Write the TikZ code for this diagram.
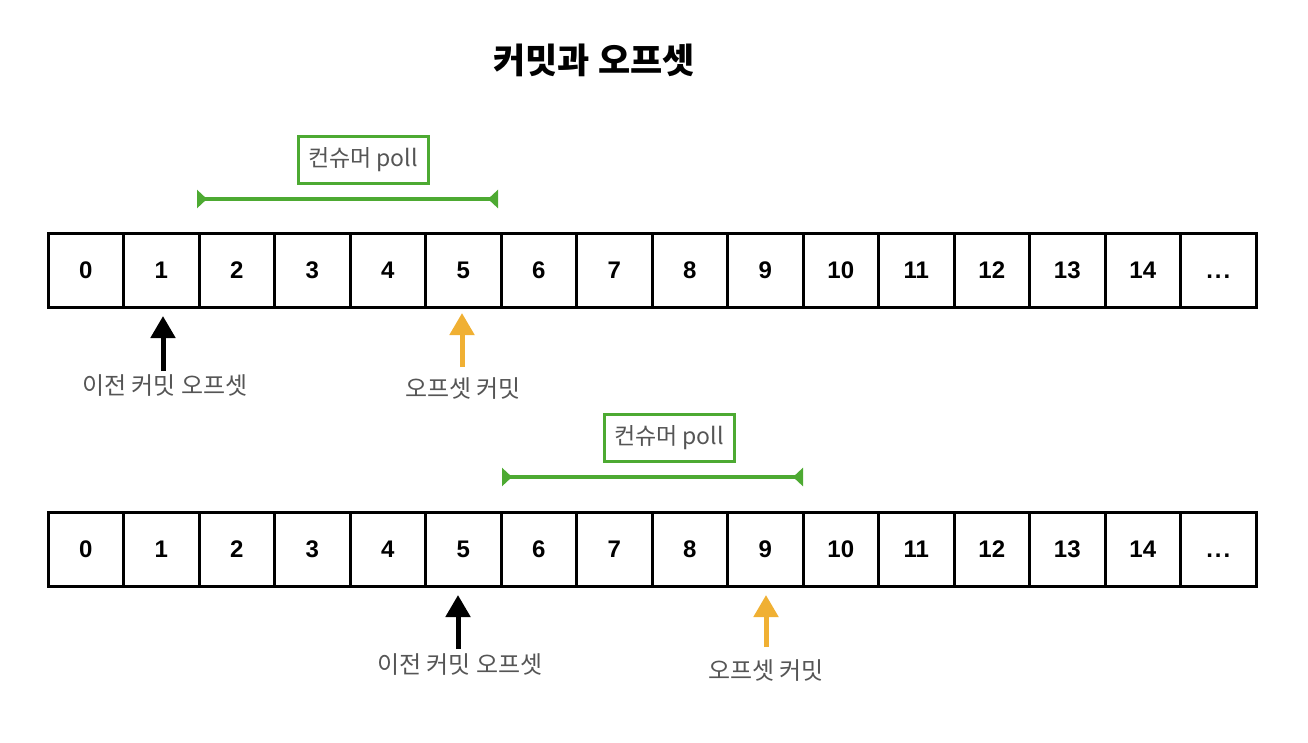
\documentclass[tikz,border=0pt]{standalone}
\usepackage{fontspec}
\setmainfont{Liberation Sans}
\newfontfamily\kr{Noto Sans CJK KR}
\usetikzlibrary{arrows.meta}
\usetikzlibrary{positioning}
\definecolor{pollgreen}{HTML}{4DAA32}
\definecolor{commitorange}{HTML}{F0B033}
\definecolor{labelgray}{HTML}{555555}
\tikzset{cell/.style = {draw, line width = 3, minimum width = 75.5, minimum height = 74,
                        inner sep = 0, text height = 17, text depth = 0,
                        font = \fontsize{24}{24}\selectfont\bfseries}}
\tikzset{pollbox/.style = {draw = pollgreen, line width = 3, minimum width = 130, minimum height = 47,
                           inner sep = 0, text = labelgray, font = \kr\fontsize{23}{23}\selectfont}}
\tikzset{pollspan/.style = {draw = pollgreen, line width = 4,
                            {Triangle[reversed, width = 18, length = 10]}-{Triangle[reversed, width = 18, length = 10]}}}
\tikzset{offlabel/.style = {text = labelgray, inner sep = 0, font = \kr\fontsize{24}{24}\selectfont}}
\tikzset{prevarrow/.style = {draw, line width = 5, -{Triangle[width = 24, length = 22]}}}
\tikzset{commitarrow/.style = {draw = commitorange, line width = 5, -{Triangle[width = 24, length = 22]}}}
\begin{document}
\begin{tikzpicture}[x = 1pt, y = -1pt]
      \useasboundingbox (0, 0) rectangle (1308, 742);
      \node (title) at (594, 60) [font = \kr\fontsize{35}{35}\selectfont\bfseries] {커밋과 오프셋};

      % first log
      \foreach \i/\t in {0/0, 1/1, 2/2, 3/3, 4/4, 5/5, 6/6, 7/7, 8/8, 9/9, 10/10, 11/11, 12/12, 13/13, 14/14, 15/{.\kern2pt.\kern2pt.}}
        \node (a\i) at (85.75 + 75.5 * \i, 270) [cell] {\t};
      \node (polla) at (363, 160) [pollbox] {컨슈머 poll};
      \coordinate (pollaL) at (197, 199);
      \coordinate (pollaR) at (498, 199);
      \draw [pollspan] (pollaL) -- (pollaR);
      \node (preva) at (165, 386) [offlabel] {이전 커밋 오프셋};
      \coordinate (prevaS) at (163, 371);
      \coordinate (prevaE) at (163, 316);
      \draw [prevarrow] (prevaS) -- (prevaE);
      \node (commita) at (463, 389) [offlabel] {오프셋 커밋};
      \coordinate (commitaS) at (462, 367);
      \coordinate (commitaE) at (462, 313);
      \draw [commitarrow] (commitaS) -- (commitaE);

      % second log
      \foreach \i/\t in {0/0, 1/1, 2/2, 3/3, 4/4, 5/5, 6/6, 7/7, 8/8, 9/9, 10/10, 11/11, 12/12, 13/13, 14/14, 15/{.\kern2pt.\kern2pt.}}
        \node (b\i) at (85.75 + 75.5 * \i, 549) [cell] {\t};
      \node (pollb) at (669, 438) [pollbox] {컨슈머 poll};
      \coordinate (pollbL) at (502, 477);
      \coordinate (pollbR) at (803, 477);
      \draw [pollspan] (pollbL) -- (pollbR);
      \node (prevb) at (460, 665) [offlabel] {이전 커밋 오프셋};
      \coordinate (prevbS) at (458, 649);
      \coordinate (prevbE) at (458, 595);
      \draw [prevarrow] (prevbS) -- (prevbE);
      \node (commitb) at (766, 670) [offlabel] {오프셋 커밋};
      \coordinate (commitbS) at (766, 647);
      \coordinate (commitbE) at (766, 595);
      \draw [commitarrow] (commitbS) -- (commitbE);
\end{tikzpicture}
\end{document}
